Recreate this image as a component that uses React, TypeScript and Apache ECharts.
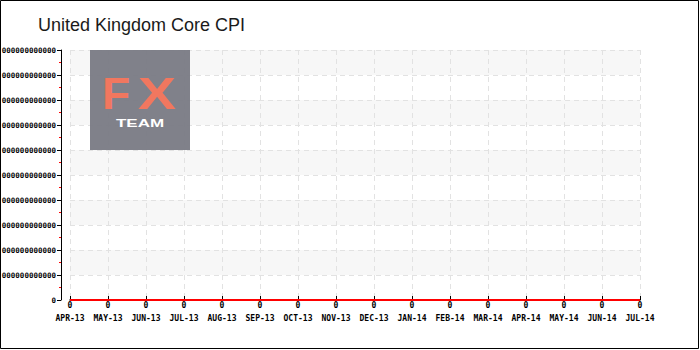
import React, { useEffect, useRef } from "react";
import * as echarts from "echarts";

const titleText = "United Kingdom Core CPI";
const xCategories = [
  "APR-13", "MAY-13", "JUN-13", "JUL-13", "AUG-13", "SEP-13", "OCT-13", "NOV-13",
  "DEC-13", "JAN-14", "FEB-14", "MAR-14", "APR-14", "MAY-14", "JUN-14", "JUL-14",
];
const cpiValues = [0, 0, 0, 0, 0, 0, 0, 0, 0, 0, 0, 0, 0, 0, 0, 0];
const yStep = 1;
const yMax = 10;
// tick labels as they are visible in the reference (leading digits cut off there)
const yTickLabels = [
  "0",
  "000000000000", "000000000000", "000000000000", "000000000000", "000000000000",
  "000000000000", "000000000000", "000000000000", "000000000000", "000000000000",
];

const pixelFont = "DejaVu Sans Mono";

export default function App() {
  const ref = useRef<HTMLDivElement>(null);
  useEffect(() => {
    if (!ref.current) return;
    const chart = echarts.init(ref.current, null, { renderer: "svg" });
    chart.setOption({
      animation: false,
      backgroundColor: "#ffffff",
      title: {
        text: titleText,
        left: 33,
        top: 11,
        textStyle: { fontSize: 18, fontWeight: "normal", color: "#1a1a1a", fontFamily: "Liberation Sans" },
      },
      grid: { left: 70, right: 60, top: 50, bottom: 50, outerBoundsMode: "none", containLabel: false },
      xAxis: {
        type: "category",
        data: xCategories,
        boundaryGap: false,
        offset: 10,
        axisLine: { show: true, lineStyle: { color: "#000", width: 1.5 } },
        axisTick: { show: true, inside: true, length: 4, alignWithLabel: true, lineStyle: { color: "#000" } },
        axisLabel: { interval: 0, margin: 4, fontSize: 8, fontWeight: "bold", color: "#000", fontFamily: pixelFont },
        splitLine: { show: true, interval: 0, lineStyle: { color: "#e2e2e2", type: [5, 4] } },
      },
      yAxis: {
        type: "value",
        min: 0,
        max: yMax,
        interval: yStep,
        offset: 9,
        axisLine: { show: true, lineStyle: { color: "#000", width: 1 } },
        axisTick: { show: true, length: 4, lineStyle: { color: "#000" } },
        minorTick: { show: true, splitNumber: 2, length: 2, lineStyle: { color: "#ff0000" } },
        axisLabel: {
          margin: 5,
          fontSize: 7.5,
          fontWeight: "bold",
          color: "#000",
          fontFamily: pixelFont,
          formatter: (_v: number, i: number) => yTickLabels[i],
        },
        splitLine: { show: true, lineStyle: { color: "#e2e2e2", type: [5, 4] } },
        splitArea: { show: true, areaStyle: { color: ["rgba(255,255,255,0)", "#f7f7f7"] } },
      },
      series: [
        {
          type: "line",
          data: cpiValues,
          symbol: "circle",
          symbolSize: 1,
          showSymbol: true,
          itemStyle: { color: "rgba(0,0,0,0)" },
          lineStyle: { color: "#ff0000", width: 2 },
          label: {
            show: true,
            position: "bottom",
            distance: 1,
            color: "#000",
            fontSize: 8,
            fontWeight: "bold",
            fontFamily: pixelFont,
          },
          z: 5,
        },
      ],
      graphic: [
        {
          type: "group",
          left: 90,
          top: 50,
          z: 50,
          children: [
            { type: "rect", z: 50, shape: { x: 0, y: 0, width: 100, height: 100 }, style: { fill: "#7c7d86", opacity: 0.97 } },
            {
              type: "text", z: 51, x: 26, y: 44, style: {
                text: "F", fill: "#f1775f", fontSize: 44, fontWeight: "bold", fontFamily: "Liberation Sans",
                align: "center", verticalAlign: "middle",
              }, scaleX: 1.05,
            },
            {
              type: "text", z: 51, x: 67, y: 44, style: {
                text: "X", fill: "#f1775f", fontSize: 44, fontWeight: "bold", fontFamily: "Liberation Sans",
                align: "center", verticalAlign: "middle",
              }, scaleX: 1.3,
            },
            {
              type: "text", z: 51, x: 50, y: 73, style: {
                text: "TEAM", fill: "#ffffff", fontSize: 11, fontWeight: "bold", fontFamily: "Liberation Sans",
                align: "center", verticalAlign: "middle",
              }, scaleX: 1.55,
            },
          ],
        },
        {
          type: "rect",
          z: 100,
          shape: { x: 0.5, y: 0.5, width: 698, height: 348 },
          style: { fill: "none", stroke: "#000", lineWidth: 1 },
        },
      ],
    });
    return () => chart.dispose();
  }, []);
  return <div ref={ref} style={{ position: "fixed", left: 0, top: 0, width: 700, height: 350 }} />;
}
